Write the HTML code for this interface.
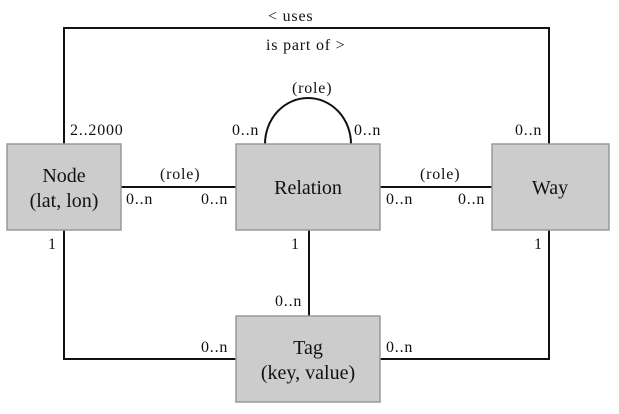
<!DOCTYPE html>
<html><head><meta charset="utf-8"><style>
body{margin:0;background:#fff}
svg{display:block}
svg text{font-family:"Liberation Serif","DejaVu Serif",serif}
.box{fill:#cccccc;stroke:#9a9a9a;stroke-width:1.5}
.ln{stroke:#111;stroke-width:2;fill:none}
.t{font-size:20px;fill:#111;text-anchor:middle}
.s{font-size:16px;fill:#111;letter-spacing:0.8px}
</style></head><body>
<svg width="619" height="414" viewBox="0 0 619 414">
<g>
<polyline class="ln" points="64,144 64,28 549,28 549,144"/>
<line class="ln" x1="121" y1="187" x2="236" y2="187"/>
<line class="ln" x1="380" y1="187" x2="492" y2="187"/>
<line class="ln" x1="309" y1="230" x2="309" y2="316"/>
<polyline class="ln" points="64,230 64,359 236,359"/>
<polyline class="ln" points="549,230 549,359 380,359"/>
<path class="ln" d="M265,144 A43,46 0 0 1 351,144"/>
</g>
<rect class="box" x="7" y="144" width="114" height="86"/>
<text class="t" x="64" y="182">Node</text>
<text class="t" x="64" y="207">(lat, lon)</text>
<rect class="box" x="236" y="144" width="144" height="86"/>
<text class="t" x="308" y="194">Relation</text>
<rect class="box" x="492" y="144" width="117" height="86"/>
<text class="t" x="550" y="194">Way</text>
<rect class="box" x="236" y="316" width="144" height="86"/>
<text class="t" x="308" y="354">Tag</text>
<text class="t" x="308" y="379">(key, value)</text>
<g>
<text class="s" x="268" y="21">&lt; uses</text>
<text class="s" x="266" y="50">is part of &gt;</text>
<text class="s" x="70" y="135">2..2000</text>
<text class="s" x="515" y="135">0..n</text>
<text class="s" x="292" y="93">(role)</text>
<text class="s" x="232" y="135">0..n</text>
<text class="s" x="354" y="135">0..n</text>
<text class="s" x="160" y="179">(role)</text>
<text class="s" x="126" y="204">0..n</text>
<text class="s" x="201" y="204">0..n</text>
<text class="s" x="420" y="179">(role)</text>
<text class="s" x="386" y="204">0..n</text>
<text class="s" x="458" y="204">0..n</text>
<text class="s" x="48" y="249">1</text>
<text class="s" x="291" y="249">1</text>
<text class="s" x="534" y="249">1</text>
<text class="s" x="275" y="306">0..n</text>
<text class="s" x="201" y="352">0..n</text>
<text class="s" x="386" y="352">0..n</text>
</g>
</svg>
</body></html>
